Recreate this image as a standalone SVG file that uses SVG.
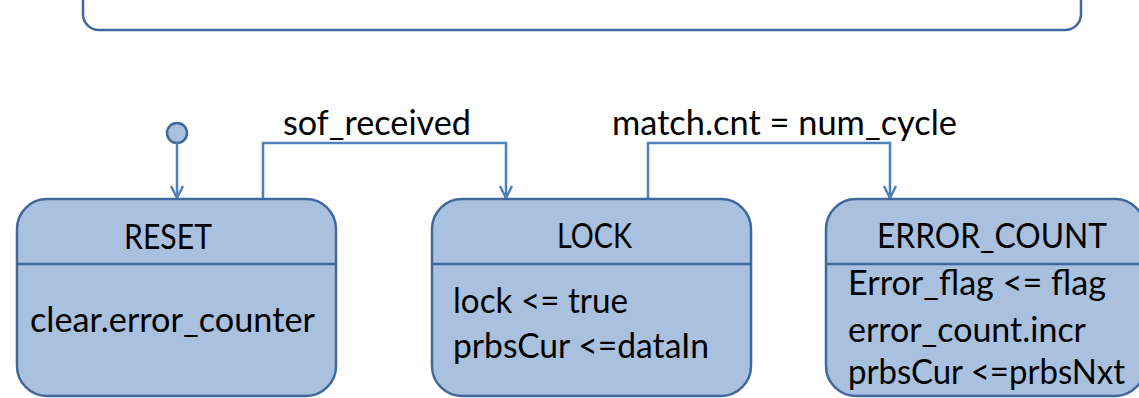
<svg xmlns="http://www.w3.org/2000/svg" width="1139" height="398" viewBox="0 0 1139 398">
<style>
.node{fill:#A9C1DF;stroke:#41689A;stroke-width:2.5}
.div{stroke:#41689A;stroke-width:2.5}
.conn{fill:none;stroke:#4F81BD;stroke-width:2.5}
.t{font-family:Lato,"Liberation Sans",sans-serif;font-size:34px;fill:#000}
</style>
<defs>
<marker id="arr" viewBox="0 0 16 16" refX="14" refY="8" markerWidth="16" markerHeight="16" markerUnits="userSpaceOnUse" orient="auto">
<path d="M2,2 L14,8 L2,14" fill="none" stroke="#4F81BD" stroke-width="2.5"/>
</marker>
</defs>
<rect width="1139" height="398" fill="#fff"/>
<g id="container">
<rect x="83" y="-30" width="998" height="60" rx="16" fill="#fff" stroke="#41689A" stroke-width="2.5"/>
</g>
<g id="initial">
<circle cx="177" cy="133" r="10" fill="#A9C1DF" stroke="#41689A" stroke-width="2.5"/>
</g>
<g id="connectors">
<path class="conn" d="M177,143 V198" marker-end="url(#arr)"/>
<path class="conn" d="M263,199 V143 H506 V198" marker-end="url(#arr)"/>
<path class="conn" d="M648,199 V143 H890 V198" marker-end="url(#arr)"/>
<text class="t" x="283" y="135" textLength="188" lengthAdjust="spacingAndGlyphs">sof_received</text>
<text class="t" x="612" y="135" textLength="345" lengthAdjust="spacingAndGlyphs">match.cnt = num_cycle</text>
</g>
<g id="reset">
<rect class="node" x="17" y="199" width="319" height="197" rx="30"/>
<line class="div" x1="17" y1="264" x2="336" y2="264"/>
<text class="t" x="124" y="249" textLength="88" lengthAdjust="spacingAndGlyphs">RESET</text>
<text class="t" x="30" y="332" textLength="285" lengthAdjust="spacingAndGlyphs">clear.error_counter</text>
</g>
<g id="lock">
<rect class="node" x="432" y="199" width="319" height="197" rx="30"/>
<line class="div" x1="432" y1="264" x2="751" y2="264"/>
<text class="t" x="557" y="248" textLength="75" lengthAdjust="spacingAndGlyphs">LOCK</text>
<text class="t" x="453" y="313" textLength="175" lengthAdjust="spacingAndGlyphs">lock &lt;= true</text>
<text class="t" x="453" y="358" textLength="256" lengthAdjust="spacingAndGlyphs">prbsCur &lt;=dataIn</text>
</g>
<g id="error_count">
<rect class="node" x="826" y="199" width="319" height="197" rx="30"/>
<line class="div" x1="826" y1="264" x2="1145" y2="264"/>
<text class="t" x="877" y="248" textLength="230" lengthAdjust="spacingAndGlyphs">ERROR_COUNT</text>
<text class="t" x="848" y="295" textLength="258" lengthAdjust="spacingAndGlyphs">Error_flag &lt;= flag</text>
<text class="t" x="848" y="342" textLength="238" lengthAdjust="spacingAndGlyphs">error_count.incr</text>
<text class="t" x="848" y="384" textLength="277" lengthAdjust="spacingAndGlyphs">prbsCur &lt;=prbsNxt</text>
</g>
</svg>
